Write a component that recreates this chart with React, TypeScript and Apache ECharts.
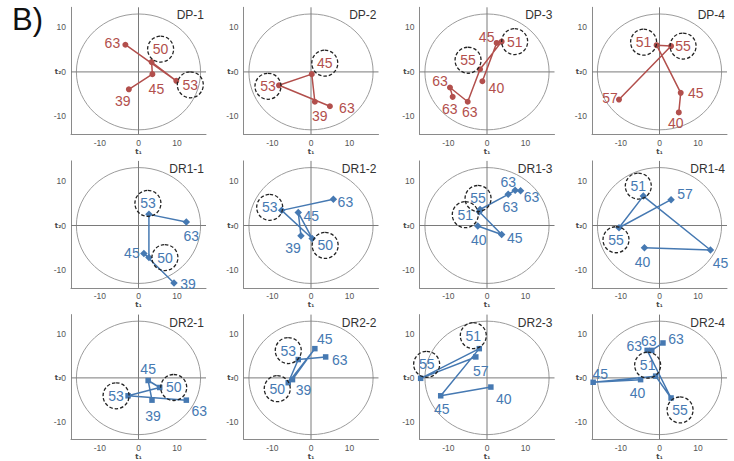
import React, { useEffect, useRef } from "react";
import * as echarts from "echarts";

type P = [number, number, number]; // t1, t2, day
type O = [number, number];

// Hotelling ellipse half-axes (t1, t2)
const ELLIPSE_T1_T2 = [16.1, 13.0];
const T_TICKS = [-10, 0, 10];

// ---- DP ----
const DP_1: P[] = [[-2.5, -3.9, 39], [3.6, -0.5, 45], [3.4, 2.2, 50], [9.8, -2.0, 53], [-3.4, 6.1, 63]];
const DP_1_CIRCLED = [50, 53];
const DP_2: P[] = [[1.0, -6.7, 39], [0.2, -0.5, 45], [-8.3, -3.0, 53], [4.9, -7.7, 63]];
const DP_2_CIRCLED = [45, 53];
const DP_3: P[] = [[-1.2, -2.1, 40], [2.5, 6.5, 45], [3.8, 6.8, 51], [-1.8, 0.6, 55], [-5.0, -6.7, 63], [-9.6, -3.5, 63], [-8.9, -5.6, 63]];
const DP_3_CIRCLED = [51, 55];
const DP_4: P[] = [[5.0, -9.1, 40], [5.5, -4.7, 45], [-0.75, 6.0, 51], [3.0, 5.8, 55], [-10.5, -6.2, 57]];
const DP_4_CIRCLED = [51, 55];

// ---- DR1 ----
const DR1_1: P[] = [[9.2, -12.9, 39], [1.4, -6.3, 45], [2.7, -7.2, 50], [2.7, 2.5, 53], [12.4, 0.8, 63]];
const DR1_1_CIRCLED = [50, 53];
const DR1_2: P[] = [[-2.6, -2.3, 39], [-3.3, 2.9, 45], [0.3, -2.9, 50], [-7.6, 3.4, 53], [5.8, 5.9, 63]];
const DR1_2_CIRCLED = [50, 53];
const DR1_3: P[] = [[-2.4, -0.1, 40], [3.8, -2.0, 45], [-2.0, 3.1, 51], [-1.8, 3.6, 55], [5.5, 7.0, 63], [7.3, 7.9, 63], [8.7, 7.8, 63]];
const DR1_3_CIRCLED = [51, 55];
const DR1_4: P[] = [[-3.9, -5.0, 40], [13.2, -5.5, 45], [-4.2, 6.6, 51], [-10.5, -0.5, 55], [3.0, 5.8, 57]];
const DR1_4_CIRCLED = [51, 55];

// ---- DR2 ----
const DR2_1: P[] = [[3.5, -5.1, 39], [2.5, -0.6, 45], [5.5, -2.2, 50], [-2.7, -4.1, 53], [12.4, -5.1, 63]];
const DR2_1_CIRCLED = [50, 53];
const DR2_2: P[] = [[-4.8, -0.4, 39], [1.0, 6.7, 45], [-5.9, -1.1, 50], [-3.3, 4.2, 53], [3.8, 4.8, 63]];
const DR2_2_CIRCLED = [50, 53];
const DR2_3: P[] = [[1.0, -2.1, 40], [-12.0, -4.1, 45], [-2.0, 6.7, 51], [-17.2, -0.1, 55], [-2.9, 4.8, 57]];
const DR2_3_CIRCLED = [51, 55];
const DR2_4: P[] = [[-4.9, -0.4, 40], [-17.2, -1.0, 45], [-1.0, 0.4, 51], [3.0, -4.6, 55], [-3.2, 6.3, 63], [-2.0, 6.3, 63], [0.9, 8.0, 63]];
const DR2_4_CIRCLED = [51, 55];

// label offsets in px (style only)
const DP_1_LAB: O[] = [[-6, 12], [4, 15], [9, -13], [14, 4], [-13, -2]];
const DP_2_LAB: O[] = [[5, 14], [13, -11], [-11, 1], [17, 2]];
const DP_3_LAB: O[] = [[14, 7], [-10, -6], [13, 0], [-12, -9], [2, 10], [-10, -7], [-3, 12]];
const DP_4_LAB: O[] = [[-3, 11], [15, 0], [-13, -3], [12, 0], [-9, -2]];
const DR1_1_LAB: O[] = [[14, 1], [-12, -1], [16, 0], [-1, -11], [5, 14]];
const DR1_2_LAB: O[] = [[-8, 12], [13, 3], [13, 7], [-12, -3], [12, 3]];
const DR1_3_LAB: O[] = [[1, 14], [13, 4], [-14, 3], [-2, -11], [2, 13], [-7, -8], [11, 6]];
const DR1_4_LAB: O[] = [[-2, 14], [10, 13], [-5, -10], [-3, 12], [14, -6]];
const DR2_1_LAB: O[] = [[1, 16], [0, -12], [14, 0], [-12, 0], [13, 11]];
const DR2_2_LAB: O[] = [[11, 10], [10, -10], [-11, 6], [-10, -9], [14, 3]];
const DR2_3_LAB: O[] = [[13, 12], [1, 13], [-6, -13], [6, -14], [5, 14]];
const DR2_4_LAB: O[] = [[-3, 13], [7, -8], [-8, -11], [9, 12], [-13, -4], [-3, -9], [13, -4]];

const PANELS = [
  { name: "DP-1", pts: DP_1, lab: DP_1_LAB, ring: DP_1_CIRCLED, kind: 0 },
  { name: "DP-2", pts: DP_2, lab: DP_2_LAB, ring: DP_2_CIRCLED, kind: 0 },
  { name: "DP-3", pts: DP_3, lab: DP_3_LAB, ring: DP_3_CIRCLED, kind: 0 },
  { name: "DP-4", pts: DP_4, lab: DP_4_LAB, ring: DP_4_CIRCLED, kind: 0 },
  { name: "DR1-1", pts: DR1_1, lab: DR1_1_LAB, ring: DR1_1_CIRCLED, kind: 1 },
  { name: "DR1-2", pts: DR1_2, lab: DR1_2_LAB, ring: DR1_2_CIRCLED, kind: 1 },
  { name: "DR1-3", pts: DR1_3, lab: DR1_3_LAB, ring: DR1_3_CIRCLED, kind: 1 },
  { name: "DR1-4", pts: DR1_4, lab: DR1_4_LAB, ring: DR1_4_CIRCLED, kind: 1 },
  { name: "DR2-1", pts: DR2_1, lab: DR2_1_LAB, ring: DR2_1_CIRCLED, kind: 2 },
  { name: "DR2-2", pts: DR2_2, lab: DR2_2_LAB, ring: DR2_2_CIRCLED, kind: 2 },
  { name: "DR2-3", pts: DR2_3, lab: DR2_3_LAB, ring: DR2_3_CIRCLED, kind: 2 },
  { name: "DR2-4", pts: DR2_4, lab: DR2_4_LAB, ring: DR2_4_CIRCLED, kind: 2 },
];

const KIND_COLOR = ["#B24F4C", "#4679B2", "#4679B2"];
const KIND_SYMBOL = ["circle", "diamond", "rect"];
const KIND_SIZE = [6, 7.5, 5.5];

const COL_LEFT = [71, 243.5, 419.5, 592];
const ROW_TOP = [7.3, 160.9, 314.6];
const GRID_W = 135;
const GRID_H = 127;
const W = 734;
const FONT = "Liberation Sans, Arial, sans-serif";
const SUB_FONT = "DejaVu Sans, sans-serif";

function buildOption() {
  const grid: any[] = [];
  const xAxis: any[] = [];
  const yAxis: any[] = [];
  const series: any[] = [];
  const title: any[] = [
    {
      text: "B)",
      left: 12,
      top: 4,
      padding: 0,
      textStyle: { fontSize: 31, fontWeight: "normal", color: "#111", fontFamily: FONT },
    },
  ];
  const axisLineStyle = { color: "#8a8a8a", width: 1 };
  PANELS.forEach((pn, i) => {
    const col = i % 4;
    const row = Math.floor(i / 4);
    const left = COL_LEFT[col];
    const top = ROW_TOP[row];
    grid.push({ left, top, width: GRID_W, height: GRID_H, containLabel: false });
    xAxis.push({
      gridIndex: i,
      type: "value",
      min: -17.5,
      max: 17.5,
      axisLine: { show: true, onZero: false, lineStyle: axisLineStyle },
      axisTick: { show: false },
      splitLine: { show: false },
      axisLabel: {
        fontSize: 8.5,
        color: "#555",
        margin: 4,
        fontFamily: FONT,
        lineHeight: 9,
        formatter: (v: number) =>
          T_TICKS.indexOf(v) < 0 ? "" : v === 0 ? "0\n{t|t₁}" : String(v),
        rich: {
          t: { fontSize: 7, fontWeight: "bold", color: "#444", lineHeight: 9, fontFamily: SUB_FONT },
        },
      },
    });
    yAxis.push({
      gridIndex: i,
      type: "value",
      min: -14,
      max: 14.5,
      axisLine: { show: true, onZero: false, lineStyle: axisLineStyle },
      axisTick: { show: false },
      splitLine: { show: false },
      axisLabel: {
        fontSize: 8.5,
        color: "#555",
        margin: 5,
        fontFamily: FONT,
        formatter: (v: number) =>
          T_TICKS.indexOf(v) < 0 ? "" : v === 0 ? "{t|t₂}0" : String(v),
        rich: { t: { fontSize: 7, fontWeight: "bold", color: "#444", fontFamily: SUB_FONT } },
      },
    });
    title.push({
      text: pn.name,
      right: W - (left + GRID_W) + 2,
      top: top + 2,
      padding: 0,
      textStyle: { fontSize: 12, fontWeight: "normal", color: "#333", fontFamily: FONT },
    });
    series.push({
      type: "custom",
      xAxisIndex: i,
      yAxisIndex: i,
      silent: true,
      z: 1,
      data: [[0, 0, ELLIPSE_T1_T2[0], ELLIPSE_T1_T2[1]]],
      renderItem: (params: any, api: any) => {
        const c = api.coord([api.value(0), api.value(1)]);
        const s = api.size([api.value(2), api.value(3)]);
        const cs = params.coordSys;
        return {
          type: "group",
          children: [
            {
              type: "ellipse",
              shape: { cx: c[0], cy: c[1], rx: s[0], ry: s[1] },
              style: { fill: "none", stroke: "#9c9c9c", lineWidth: 1 },
            },
            {
              type: "line",
              shape: { x1: c[0], y1: cs.y, x2: c[0], y2: cs.y + cs.height },
              style: { stroke: "#7a7a7a", lineWidth: 1 },
            },
            {
              type: "line",
              shape: { x1: cs.x, y1: c[1], x2: cs.x + cs.width, y2: c[1] },
              style: { stroke: "#7a7a7a", lineWidth: 1 },
            },
          ],
        };
      },
    });
    const color = KIND_COLOR[pn.kind];
    series.push({
      type: "line",
      xAxisIndex: i,
      yAxisIndex: i,
      z: 3,
      symbol: KIND_SYMBOL[pn.kind],
      symbolSize: KIND_SIZE[pn.kind],
      showAllSymbol: true,
      lineStyle: { color, width: 1.5 },
      itemStyle: { color },
      label: {
        show: true,
        position: "inside",
        color,
        fontSize: 14,
        fontFamily: FONT,
        formatter: (p: any) => String(p.value[2]),
      },
      data: pn.pts.map((p, j) => {
        const ringed = pn.ring.indexOf(p[2]) >= 0;
        const lbl: any = { offset: pn.lab[j] };
        if (ringed) {
          Object.assign(lbl, {
            width: 20,
            height: 20,
            lineHeight: 20,
            align: "center",
            verticalAlign: "middle",
            padding: 3,
            borderRadius: 14,
            borderColor: "#222",
            borderWidth: 1.3,
            borderType: [3.5, 2],
          });
        }
        return { value: p, label: lbl };
      }),
    });
  });
  return {
    animation: false,
    backgroundColor: "#ffffff",
    textStyle: { fontFamily: FONT },
    title,
    grid,
    xAxis,
    yAxis,
    series,
  };
}

export default function App() {
  const ref = useRef<HTMLDivElement>(null);
  useEffect(() => {
    if (!ref.current) return;
    const chart = echarts.init(ref.current, undefined, { renderer: "svg" });
    chart.setOption(buildOption() as any);
    return () => chart.dispose();
  }, []);
  return (
    <div
      ref={ref}
      style={{ position: "fixed", left: 0, top: 0, width: 734, height: 461, background: "#fff" }}
    />
  );
}
